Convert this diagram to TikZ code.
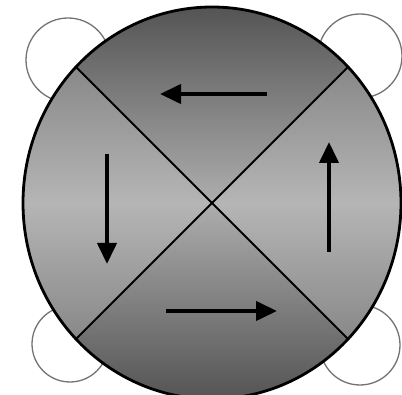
\documentclass[tikz,border=0pt]{standalone}
\usetikzlibrary{arrows.meta}
\definecolor{darkg}{gray}{0.33}
\definecolor{lightg}{gray}{0.68}
\definecolor{sideout}{gray}{0.53}
\definecolor{sidein}{gray}{0.71}
\definecolor{loopg}{gray}{0.45}
\begin{document}
\begin{tikzpicture}[x=1pt,y=-1pt,
  loopline/.style={draw=loopg,line width=1.3pt},
  divline/.style={draw=black,line width=2pt},
  rimline/.style={draw=black,line width=2.8pt},
  flowarrow/.style={draw=black,line width=4pt,-{Triangle[length=21pt,width=19pt]}}]
\useasboundingbox (0,0) rectangle (402,395);
\fill[white] (0,0) rectangle (402,395);
% corner loops
\draw[loopline] (68,60) circle[radius=42];
\draw[loopline] (360,56) circle[radius=42];
\draw[loopline] (70,344) circle[radius=38];
\draw[loopline] (360,345) circle[radius=40];
\coordinate (C) at (212,203);
\begin{scope}
  \clip (C) ellipse[x radius=189, y radius=196];
  \fill[white] (C) ellipse[x radius=189, y radius=196];
  % top quadrant
  \shade[top color=darkg,bottom color=lightg] (C) -- (16,7) -- (408,7) -- cycle;
  % bottom quadrant
  \shade[top color=lightg,bottom color=darkg] (C) -- (16,399) -- (408,399) -- cycle;
  % left quadrant
  \shade[top color=sideout,bottom color=sideout,middle color=sidein] (C) -- (72,63) -- (0,63) -- (0,343) -- (72,343) -- cycle;
  % right quadrant
  \shade[top color=sideout,bottom color=sideout,middle color=sidein] (C) -- (352,63) -- (410,63) -- (410,343) -- (352,343) -- cycle;
  \draw[divline] (12,3) -- (412,403);
  \draw[divline] (12,403) -- (412,3);
\end{scope}
\draw[rimline] (C) ellipse[x radius=189, y radius=196];
% arrows
\coordinate (ta) at (267,94);
\coordinate (tb) at (160,94);
\coordinate (la) at (107,154);
\coordinate (lb) at (107,264);
\coordinate (ba) at (166,311);
\coordinate (bb) at (277,311);
\coordinate (ra) at (329,252);
\coordinate (rb) at (329,142);
\draw[flowarrow] (ta) -- (tb);
\draw[flowarrow] (la) -- (lb);
\draw[flowarrow] (ba) -- (bb);
\draw[flowarrow] (ra) -- (rb);
\end{tikzpicture}
\end{document}
